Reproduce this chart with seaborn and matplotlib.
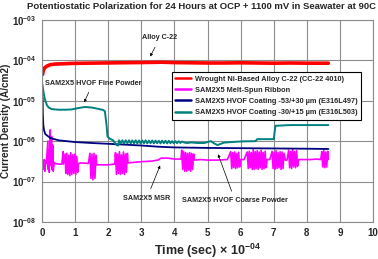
"""
Potentiostatic polarization curves (current density vs time) for C-22 and SAM2X5 samples.
"""

import numpy as np
import pandas as pd
import matplotlib
matplotlib.use("Agg")
import matplotlib.pyplot as plt
import seaborn as sns


# Time in units of 1e4 s, current density in A/cm2
red_t = [0.02, 0.04, 0.08, 0.15, 0.25, 0.4, 0.6, 0.9, 1.3, 1.8, 2.3, 2.8, 3.3, 3.6,
         4.0, 4.5, 5.0, 5.5, 6.0, 6.5, 7.0, 7.5, 8.0, 8.65]
red_y = [4.5e-5, 5.6e-5, 6.5e-5, 7.2e-5, 7.8e-5, 8.1e-5, 8.2e-5, 8.4e-5, 8.5e-5, 8.6e-5,
         8.7e-5, 8.8e-5, 8.9e-5, 9.0e-5, 8.8e-5, 8.7e-5, 8.6e-5, 8.6e-5, 8.7e-5, 8.6e-5,
         8.5e-5, 8.6e-5, 8.5e-5, 8.5e-5]

mag_t = [0.02, 0.05, 0.07, 0.09, 0.11, 0.13, 0.18, 0.19, 0.21, 0.22, 0.25, 0.26, 0.29,
         0.30, 0.33, 0.34, 0.37, 0.40, 0.50, 0.60, 0.64, 0.65,
         0.70, 0.72, 0.75, 0.78, 0.81, 0.84, 0.87, 0.90, 0.93, 0.96, 0.99, 1.02, 1.05, 1.08, 1.10,
         1.20, 1.40,
         1.45, 1.48, 1.51, 1.54, 1.57, 1.60, 1.63, 1.65,
         1.80, 2.00, 2.20,
         2.22, 2.25, 2.28, 2.31, 2.34, 2.37, 2.40, 2.43, 2.46, 2.49, 2.52, 2.55, 2.58, 2.60,
         2.80, 3.00, 3.30, 3.50, 3.60, 3.80, 4.00, 4.20,
         4.22, 4.25, 4.28, 4.31, 4.34, 4.37, 4.40, 4.43, 4.46, 4.49, 4.52, 4.55, 4.58, 4.60,
         4.80, 5.00, 5.30, 5.60,
         5.70, 5.73, 5.76, 5.79, 5.82, 5.85, 5.88, 5.91, 5.94, 5.97, 6.00,
         6.10,
         6.20, 6.23, 6.26, 6.29, 6.32, 6.35, 6.38, 6.41, 6.44, 6.47, 6.50, 6.53, 6.56, 6.59,
         6.62, 6.65, 6.68, 6.71, 6.74, 6.77, 6.80,
         6.88,
         6.95, 6.98, 7.01, 7.04, 7.07, 7.10, 7.13, 7.16, 7.19, 7.22, 7.25, 7.28, 7.31, 7.35,
         7.40,
         7.45, 7.48, 7.51, 7.54, 7.57, 7.60, 7.63, 7.66, 7.69, 7.72, 7.75,
         7.90, 8.10, 8.30, 8.42,
         8.45, 8.48, 8.51, 8.54, 8.57, 8.60, 8.63, 8.65]
mag_y = [3.0e-7, 2.0e-7, 3.5e-7, 1.8e-7, 3.2e-7, 2.8e-7, 1.0e-6, 2.0e-7, 6.0e-7, 1.7e-7,
         1.9e-6, 2.5e-7, 1.3e-6, 2.0e-7, 8.0e-7, 1.8e-7, 3.0e-7, 2.8e-7, 2.7e-7, 2.7e-7,
         5.5e-7, 2.7e-7,
         4.8e-7, 1.6e-7, 5.0e-7, 1.5e-7, 4.5e-7, 1.4e-7, 5.2e-7, 1.5e-7, 4.6e-7, 1.6e-7,
         4.8e-7, 1.5e-7, 4.2e-7, 1.7e-7, 2.8e-7,
         2.9e-7, 2.8e-7,
         5.0e-7, 1.2e-7, 4.8e-7, 1.1e-7, 5.0e-7, 1.2e-7, 4.5e-7, 2.6e-7,
         2.6e-7, 2.6e-7, 2.7e-7,
         5.2e-7, 1.5e-7, 4.8e-7, 1.6e-7, 5.5e-7, 1.5e-7, 4.6e-7, 1.6e-7, 5.4e-7, 1.5e-7,
         4.8e-7, 1.7e-7, 5.0e-7, 2.9e-7,
         3.0e-7, 3.1e-7, 3.2e-7, 3.4e-7, 3.8e-7, 3.8e-7, 3.6e-7, 3.6e-7,
         6.0e-7, 2.0e-7, 5.5e-7, 1.8e-7, 5.2e-7, 1.8e-7, 5.0e-7, 1.9e-7, 5.2e-7, 1.8e-7,
         5.0e-7, 2.0e-7, 4.8e-7, 3.4e-7,
         3.5e-7, 3.4e-7, 3.4e-7, 3.5e-7,
         5.5e-7, 2.1e-7, 5.2e-7, 2.2e-7, 5.4e-7, 2.1e-7, 5.0e-7, 2.2e-7, 5.3e-7, 2.3e-7, 3.5e-7,
         3.5e-7,
         5.4e-7, 2.1e-7, 5.6e-7, 2.2e-7, 5.2e-7, 2.0e-7, 6.2e-7, 2.0e-7, 5.5e-7, 2.1e-7,
         5.8e-7, 2.0e-7, 5.4e-7, 2.2e-7, 6.0e-7, 2.0e-7, 5.3e-7, 2.1e-7, 5.6e-7, 2.2e-7, 3.5e-7,
         3.5e-7,
         5.6e-7, 2.1e-7, 5.3e-7, 2.0e-7, 5.8e-7, 2.1e-7, 5.2e-7, 2.2e-7, 5.5e-7, 2.0e-7,
         5.4e-7, 2.1e-7, 5.0e-7, 3.4e-7,
         3.4e-7,
         6.0e-7, 2.2e-7, 5.6e-7, 2.1e-7, 6.2e-7, 2.3e-7, 5.5e-7, 2.2e-7, 5.8e-7, 2.4e-7, 3.5e-7,
         3.5e-7, 3.5e-7, 3.6e-7, 3.5e-7,
         5.5e-7, 2.3e-7, 6.0e-7, 2.2e-7, 5.4e-7, 2.3e-7, 5.6e-7, 3.5e-7]

navy_t = [0.02, 0.025, 0.04, 0.06, 0.1, 0.25, 0.5, 1.0, 1.5, 2.0, 2.5, 3.0, 3.5, 4.0,
          5.0, 6.0, 7.0, 8.0, 8.65]
navy_y = [1.2e-5, 5.0e-6, 2.6e-6, 1.9e-6, 1.5e-6, 1.2e-6, 1.05e-6, 9.5e-7, 9.0e-7, 8.6e-7,
          8.2e-7, 7.8e-7, 7.3e-7, 7.0e-7, 6.8e-7, 6.7e-7, 6.6e-7, 6.5e-7, 6.4e-7]

teal_t = [0.01, 0.03, 0.06, 0.10, 0.15, 0.20, 0.30, 0.50, 0.70, 0.90, 1.10, 1.30, 1.50,
          1.70, 1.85, 1.90, 1.95, 1.98, 2.05, 2.15, 2.25, 2.30,
          2.33, 2.38, 2.43, 2.48, 2.53, 2.58, 2.63, 2.68, 2.73, 2.78, 2.83, 2.88, 2.93, 2.98,
          3.03, 3.08, 3.13, 3.18, 3.23, 3.28, 3.33, 3.38, 3.43, 3.48, 3.53, 3.58, 3.63, 3.68,
          3.73, 3.78, 3.83, 3.88, 3.93, 3.98, 4.03, 4.08, 4.13, 4.18, 4.23,
          4.30, 4.40, 4.50, 4.70, 4.90, 5.10, 5.20, 5.30, 5.50, 5.80, 6.10, 6.45, 6.50, 7.00,
          7.05, 7.50, 8.00, 8.65]
teal_y = [2.6e-5, 2.0e-5, 1.4e-5, 1.0e-5, 7.8e-6, 6.8e-6, 6.2e-6, 6.0e-6, 6.0e-6, 6.1e-6,
          6.6e-6, 7.0e-6, 6.8e-6, 6.3e-6, 5.9e-6, 5.5e-6, 2.5e-6, 1.3e-6, 1.15e-6, 1.05e-6,
          8.0e-7, 7.8e-7,
          1.05e-6, 8.8e-7, 1.05e-6, 8.8e-7, 1.05e-6, 8.9e-7, 1.05e-6, 8.8e-7, 1.04e-6, 8.9e-7,
          1.05e-6, 8.8e-7, 1.04e-6, 8.8e-7, 1.04e-6, 8.9e-7, 1.05e-6, 8.8e-7, 1.03e-6, 8.9e-7,
          1.04e-6, 8.8e-7, 1.03e-6, 8.9e-7, 1.02e-6, 8.8e-7, 1.03e-6, 8.9e-7, 1.02e-6, 8.8e-7,
          1.02e-6, 8.9e-7, 1.0e-6, 8.9e-7, 1.0e-6, 8.9e-7, 1.0e-6, 9.0e-7, 9.8e-7,
          9.2e-7, 9.0e-7, 9.3e-7, 9.0e-7, 9.0e-7, 1.0e-6, 8.8e-7, 8.0e-7, 9.2e-7, 9.6e-7,
          9.9e-7, 1.0e-6, 1.12e-6, 1.12e-6, 2.4e-6, 2.5e-6, 2.5e-6, 2.5e-6]

series_names = [
    "Wrought Ni-Based Alloy C-22 (CC-22 4010)",
    "SAM2X5 Melt-Spun Ribbon",
    "SAM2X5 HVOF Coating -53/+30 \u00b5m (E316L497)",
    "SAM2X5 HVOF Coating -30/+15 \u00b5m (E316L503)",
]
series_colors = ["#FF0000", "#FF00FF", "#000080", "#008080"]
series_widths = [2.6, 1.2, 1.3, 1.4]

x_ticks = list(range(0, 11))
y_ticks = [1e-8, 1e-7, 1e-6, 1e-5, 1e-4, 1e-3]
y_tick_labels = [r"$\mathbf{10^{-08}}$", r"$\mathbf{10^{-07}}$", r"$\mathbf{10^{-06}}$",
                 r"$\mathbf{10^{-05}}$", r"$\mathbf{10^{-04}}$", r"$\mathbf{10^{-03}}$"]


def main():
    sns.set_style("white")
    plt.rcParams["font.family"] = ["Liberation Sans", "DejaVu Sans"]
    plt.rcParams["font.weight"] = "bold"
    plt.rcParams["mathtext.fontset"] = "custom"
    plt.rcParams["mathtext.rm"] = "Liberation Sans"
    plt.rcParams["mathtext.bf"] = "Liberation Sans:bold"

    fig = plt.figure(figsize=(3.78, 2.59), dpi=100)
    ax = fig.add_axes([0.111, 0.143, 0.876, 0.780])

    all_t = [red_t, mag_t, navy_t, teal_t]
    all_y = [red_y, mag_y, navy_y, teal_y]
    for name, t, y, c, lw in zip(series_names, all_t, all_y, series_colors, series_widths):
        df = pd.DataFrame({"t": t, "y": y})
        sns.lineplot(data=df, x="t", y="y", ax=ax, color=c, lw=lw, label=name,
                     sort=False, estimator=None)

    ax.set_yscale("log")
    ax.set_xlim(0, 10)
    ax.set_ylim(1e-8, 1e-3)
    ax.set_xticks(x_ticks)
    ax.set_xticklabels([str(v) for v in x_ticks], fontsize=7, fontweight="bold")
    ax.set_yticks(y_ticks)
    ax.set_yticklabels(y_tick_labels, fontsize=7)
    ax.minorticks_off()
    ax.tick_params(length=0, pad=4)
    ax.grid(True, color="#8c8c8c", lw=0.8)
    for s in ax.spines.values():
        s.set_color("#8c8c8c")
        s.set_linewidth(0.8)

    ax.set_xlabel(r"Time (sec) $\times$ $\mathbf{10^{-04}}$", fontsize=9, fontweight="bold",
                  labelpad=3)
    ax.set_ylabel("Current Density (A/cm2)", fontsize=7.2, fontweight="bold", labelpad=1)
    fig.text(0.532, 0.975, "Potentiostatic Polarization for 24 Hours at OCP + 1100 mV in Seawater at 90C",
             ha="center", va="center", fontsize=6.8, fontweight="bold")

    leg = ax.legend(loc="upper right", bbox_to_anchor=(0.976, 0.762), fontsize=5.3,
                    frameon=True, fancybox=False, edgecolor="black", framealpha=1,
                    handlelength=2.2, borderpad=0.5, labelspacing=0.55, handletextpad=0.5)
    leg.get_frame().set_linewidth(0.8)
    for h in leg.get_lines():
        h.set_linewidth(1.8)

    arrow = dict(arrowstyle="-|>", color="black", lw=0.5, mutation_scale=4)
    ax.annotate("Alloy C-22", xy=(3.23, 1.08e-4), xytext=(3.56, 3.6e-4), fontsize=5.2,
                fontweight="bold", ha="center", va="center", arrowprops=arrow)
    ax.annotate("SAM2X5 HVOF Fine Powder", xy=(1.24, 7.9e-6), xytext=(1.54, 2.75e-5),
                fontsize=5.2, fontweight="bold", ha="center", va="center", arrowprops=arrow)
    ax.annotate("SAM2X5 MSR", xy=(3.6, 2.9e-7), xytext=(3.17, 3.9e-8), fontsize=5.2,
                fontweight="bold", ha="center", va="center", arrowprops=arrow)
    ax.annotate("SAM2X5 HVOF Coarse Powder", xy=(5.29, 5.5e-7), xytext=(5.83, 3.4e-8),
                fontsize=5.2, fontweight="bold", ha="center", va="center", arrowprops=arrow)

    fig.savefig("out.png", dpi=100)


if __name__ == "__main__":
    main()
